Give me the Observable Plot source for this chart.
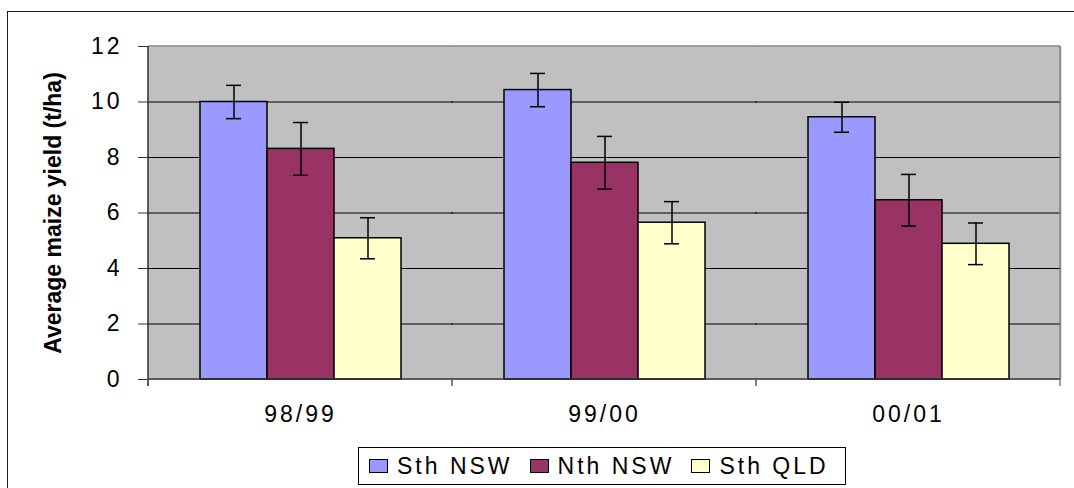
<!DOCTYPE html>
<html><head><meta charset="utf-8">
<script src="https://cdn.jsdelivr.net/npm/d3@7"></script>
<script src="https://cdn.jsdelivr.net/npm/@observablehq/plot@0.6"></script>
<style>
html,body{margin:0;padding:0;overflow:hidden;background:#fff;width:1074px;height:488px;}
#chart{position:absolute;left:0;top:0;}
#chart svg text{letter-spacing:3px;}
#border{position:absolute;left:7px;top:11px;width:1200px;height:600px;border:1.5px solid #1a1a1a;box-sizing:border-box;pointer-events:none;}
#legend{position:absolute;left:358px;top:447px;width:488px;height:38px;border:1px solid #000;box-sizing:border-box;display:flex;align-items:center;padding-left:10px;font-family:"Liberation Sans",Arial,sans-serif;font-size:23px;letter-spacing:3px;color:#000;}
.item{display:flex;align-items:center;margin-right:17px;white-space:nowrap;}
.sw{width:17px;height:12px;border:1.5px solid #000;margin-right:9px;}
</style></head><body>
<div id="chart"></div><div id="legend"></div><div id="border"></div>
<script>
const seasons = ["98/99", "99/00", "00/01"];
const regions = ["Sth NSW", "Nth NSW", "Sth QLD"];
const colors = ["#9999FF", "#993366", "#FFFFCC"];
const sthNSW = [10.0, 10.43, 9.45];
const sthNSWerr = [0.6, 0.6, 0.54];
const nthNSW = [8.31, 7.81, 6.46];
const nthNSWerr = [0.95, 0.95, 0.93];
const sthQLD = [5.09, 5.65, 4.89];
const sthQLDerr = [0.74, 0.76, 0.75];
const yTicks = [0, 2, 4, 6, 8, 10, 12];
const yLabel = "Average maize yield (t/ha)";

const series = [[sthNSW, sthNSWerr], [nthNSW, nthNSWerr], [sthQLD, sthQLDerr]];
const data = [];
seasons.forEach((s, i) => {
  series.forEach(([v, e], j) => {
    data.push({season: s, region: regions[j], value: v[i], lo: v[i] - e[i], hi: v[i] + e[i]});
  });
});

const font = '"Liberation Sans", Arial, sans-serif';
const plot = Plot.plot({
  width: 1074, height: 440,
  marginLeft: 147, marginRight: 13, marginTop: 46, marginBottom: 61,
  style: {fontFamily: font, fontSize: "23px", color: "#000", background: "transparent", overflow: "visible"},
  fx: {domain: seasons, padding: 0, axis: "bottom", tickSize: 0, tickPadding: 26, label: null},
  x: {domain: regions, paddingInner: 0, paddingOuter: 0.755, axis: null},
  y: {domain: [0, 12], ticks: yTicks, tickSize: 10, tickPadding: 16, label: yLabel, labelAnchor: "center", labelOffset: 104, labelArrow: "none"},
  color: {domain: regions, range: colors},
  marks: [
    Plot.frame({fill: "#C0C0C0", stroke: null, insetLeft: -1, insetRight: -1}),
    Plot.ruleY(yTicks.filter(t => t > 0 && t < 12), {stroke: "#000", strokeWidth: 1, insetLeft: -1, insetRight: -1}),
    Plot.barY(data, {fx: "season", x: "region", y: "value", fill: "region", stroke: "#000", strokeWidth: 1.5}),
    Plot.ruleX(data, {fx: "season", x: "region", y1: "lo", y2: "hi", stroke: "#000", strokeWidth: 1.5}),
    Plot.tickY(data, {fx: "season", x: "region", y: "lo", insetLeft: 26, insetRight: 26, stroke: "#000", strokeWidth: 1.5}),
    Plot.tickY(data, {fx: "season", x: "region", y: "hi", insetLeft: 26, insetRight: 26, stroke: "#000", strokeWidth: 1.5})
  ]
});
document.getElementById("chart").appendChild(plot);

// frame edges and category-boundary ticks, from the plot's own scales
const fxs = plot.scale("fx"), ys = plot.scale("y");
const svg = d3.select(plot);
const y0 = ys.apply(0), y12 = ys.apply(12);
const left = fxs.apply(seasons[0]);
const right = fxs.apply(seasons[seasons.length - 1]) + fxs.bandwidth;
const g = svg.append("g");
g.append("line").attr("x1", left).attr("x2", right).attr("y1", y12).attr("y2", y12).attr("stroke", "#808080").attr("stroke-width", 1.5);
g.append("line").attr("x1", right).attr("x2", right).attr("y1", y12).attr("y2", y0 + 7).attr("stroke", "#808080").attr("stroke-width", 1.5);
g.append("line").attr("x1", left).attr("x2", left).attr("y1", y12).attr("y2", y0 + 7).attr("stroke", "#333").attr("stroke-width", 1.5);
g.append("line").attr("x1", left).attr("x2", right).attr("y1", y0).attr("y2", y0).attr("stroke", "#333").attr("stroke-width", 1.5);
seasons.forEach(s => {
  const xb = fxs.apply(s);
  g.append("line").attr("x1", xb).attr("x2", xb).attr("y1", y0).attr("y2", y0 + 7).attr("stroke", "#555").attr("stroke-width", 1.5);
});
svg.selectAll('g[aria-label="y-axis label"] text').style("font-weight", "bold").style("letter-spacing", "0px");
svg.selectAll('g[aria-label="y-axis tick"] path, g[aria-label="y-axis tick"] line').attr("stroke", "#333");

// legend
const legend = d3.select("#legend");
regions.forEach((r, i) => {
  const it = legend.append("div").attr("class", "item");
  it.append("div").attr("class", "sw").style("background", colors[i]);
  it.append("span").text(r);
});
</script>
</body></html>
